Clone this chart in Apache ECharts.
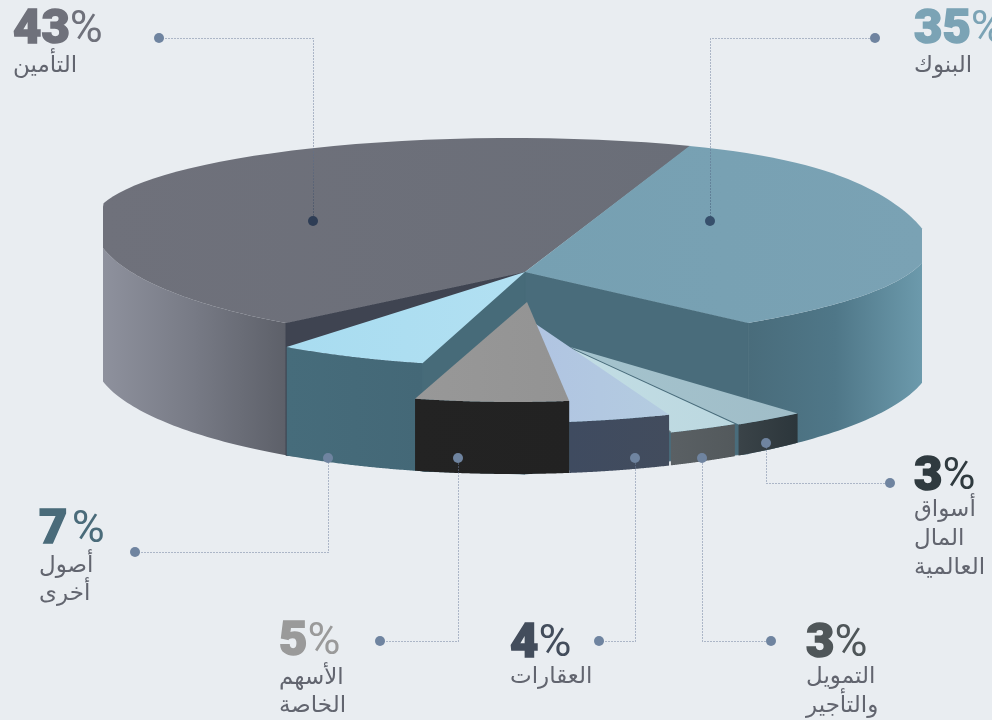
<!DOCTYPE html>
<html lang="ar">
<head>
<meta charset="utf-8">
<style>
  html, body { margin: 0; padding: 0; background: #e9edf1; }
  #chart { width: 992px; height: 720px; }
</style>
<script src="https://cdn.jsdelivr.net/npm/echarts@6/dist/echarts.min.js"></script>
</head>
<body>
<div id="chart"></div>
<script>
// Portfolio breakdown, percent of total.
const categories = [
  'التأمين',
  'أصول\nأخرى',
  'الأسهم\nالخاصة',
  'العقارات',
  'التمويل\nوالتأجير',
  'أسواق\nالمال\nالعالمية',
  'البنوك'
];
const shares = [43, 7, 5, 4, 3, 3, 35];

// Back-to-front painting order of the slices.
const paintOrder = [0, 6, 5, 4, 3, 1, 2];

// Base disc and rim of the pie.
const DISC = { cx: 513, rx: 420, ryBack: 84, ryFront: 120, rimY: 222, baseY: 356, baseRy: 118, minX: 103, maxX: 922, rayX: 408 };

// Per-slice placement: tip of the wedge, direction it faces, foreshortening and how far its top sits below the rim.
const placement = [
  { tip: [525, 272], facing: 155.4, fore: 66,  rimDrop: 0,  face: ['#6f717b', '#6a6e78'], wall: ['#8e919d', '#777a85', '#5d6069'], inner: { side: 1, color: '#3f4451' } },
  { tip: [525, 272], facing: 238.4, fore: 125, rimDrop: 24, face: ['#a8dcf0', '#b2e0f2'], wall: ['#466c7b', '#446877'], inner: { side: 1, color: '#476b79' } },
  { tip: [527, 302], facing: 265.9, fore: 82,  rimDrop: 60, face: ['#989898', '#939393'], wall: ['#232323', '#222222'] },
  { tip: [530, 320], facing: 282.6, fore: 100, rimDrop: 81, face: ['#b0c4e2', '#b4cce0'], wall: ['#3f4b60', '#424c5d'] },
  { tip: [570, 348], facing: 290.15, fore: 90, rimDrop: 99, face: ['#c2dde4', '#bcd8e0'], wall: ['#5a6064', '#53595c'], seam: '#66767c' },
  { tip: [570, 347], facing: 298.5, fore: 80,  rimDrop: 100, face: ['#a4c3cd', '#a0bdc8'], wall: ['#3a4348', '#2c363b'] },
  { tip: [525, 272], facing: 13,    fore: 78,  rimDrop: 0,  face: ['#76a0b2', '#7aa2b4'], wall: ['#496c7b', '#4f7788', '#6c9aac'], inner: { side: -1, color: '#496c7b' } }
];

// Annotation layout: leader path from outer dot to inner dot, and text block position.
const callouts = [
  { path: [[159, 38], [313, 38], [313, 221]], innerDot: '#2e3d55', x: 13,  numY: 31,  lineY: [66], color: '#6f717b' },
  { path: [[135, 552], [328, 552], [328, 458]], x: 39,  numY: 531, lineY: [566, 594], color: '#4a6b7a', spaced: true },
  { path: [[380, 641], [458, 641], [458, 458]], x: 279, numY: 643, lineY: [678, 706], color: '#9a9a9a' },
  { path: [[599, 641], [635, 641], [635, 458]], x: 510, numY: 645, lineY: [677], color: '#434d5c' },
  { path: [[771, 641], [702, 641], [702, 458]], x: 806, numY: 645, lineY: [677, 706], color: '#4f5659' },
  { path: [[890, 483], [766, 483], [766, 443]], x: 914, numY: 478, lineY: [510, 539, 568], color: '#2f3a3f' },
  { path: [[875, 38], [710, 38], [710, 221]], innerDot: '#37506c', x: 914, numY: 31, lineY: [66], color: '#7ba3b5' }
];

function frontWarp(u) { return u > 0 ? 15 * Math.pow(u, 4) : 0; }
function backWarp(u) { return u > 0 ? 30 * Math.pow(u, 6) : 0; }

function insideRim(x, y, drop) {
  const u = (x - DISC.cx) / DISC.rx;
  let dy = y - (DISC.rimY + drop) - frontWarp(u);
  let ry = DISC.ryFront;
  if (dy < 0) {
    dy -= backWarp(u) - frontWarp(u);
    ry = DISC.ryBack;
  }
  return u * u + (dy / ry) * (dy / ry) < 1;
}

// Walks out from the wedge tip along a direction until it meets the rim.
function rimPoint(p, deg) {
  const a = deg * Math.PI / 180;
  const dx = Math.cos(a) * DISC.rayX;
  const dy = -Math.sin(a) * p.fore;
  let lo = 0, hi = 6;
  for (let i = 0; i < 40; i++) {
    const t = (lo + hi) / 2;
    if (insideRim(p.tip[0] + dx * t, p.tip[1] + dy * t, p.rimDrop)) lo = t; else hi = t;
  }
  return [p.tip[0] + dx * lo, p.tip[1] + dy * lo];
}

function clampX(pt) {
  return [Math.min(DISC.maxX, Math.max(DISC.minX, pt[0])), pt[1]];
}

function baseAt(x) {
  const u = Math.min(1, Math.abs((x - DISC.cx) / DISC.rx));
  return DISC.baseY + DISC.baseRy * Math.sqrt(1 - u * u);
}

function gradient(stops) {
  return new echarts.graphic.LinearGradient(0, 0, 1, 0,
    stops.map((c, i) => ({ offset: i / (stops.length - 1), color: c })));
}

function renderSlice(params, api) {
  const value = api.value(0);
  const idx = api.value(1);
  const p = placement[idx];
  const sweep = value * 3.6;
  const from = p.facing - sweep / 2;
  const steps = 90;
  const rim = [];
  for (let i = 0; i <= steps; i++) {
    rim.push(clampX(rimPoint(p, from + sweep * i / steps)));
  }
  const children = [];

  // Outer wall: only the front half of the rim shows.
  const front = rim.filter(pt => {
    const u = (pt[0] - DISC.cx) / DISC.rx;
    return pt[1] >= DISC.rimY + p.rimDrop + frontWarp(u);
  }).sort((a, b) => a[0] - b[0]);
  if (front.length > 1) {
    const wall = front.concat(front.slice().reverse().map(pt => [pt[0], baseAt(pt[0])]));
    children.push({ type: 'polygon', shape: { points: wall }, style: { fill: gradient(p.wall) } });
  }

  // Cut face along one straight edge of the wedge.
  if (p.inner) {
    const edge = p.inner.side > 0 ? rim[rim.length - 1] : rim[0];
    children.push({
      type: 'polygon',
      shape: { points: [p.tip, edge, [edge[0], baseAt(edge[0])], [p.tip[0], baseAt(p.tip[0])]] },
      style: { fill: p.inner.color, stroke: p.inner.color, lineWidth: 1 }
    });
  }

  // Top face.
  children.push({
    type: 'polygon',
    shape: { points: [p.tip].concat(rim) },
    style: { fill: gradient(p.face) }
  });

  if (p.seam) {
    children.push({
      type: 'line',
      shape: { x1: p.tip[0], y1: p.tip[1], x2: rim[0][0], y2: rim[0][1] },
      style: { stroke: p.seam, lineWidth: 1.5 }
    });
  }
  return { type: 'group', children };
}

function renderCallout(params, api) {
  const idx = api.value(1);
  const c = callouts[idx];
  const first = c.path[0];
  const last = c.path[c.path.length - 1];
  // Leaders that run across the pie darken towards their inner dot so they stay visible.
  const leaderColor = c.innerDot
    ? new echarts.graphic.LinearGradient(0, 0, 0, 1, [
        { offset: 0, color: '#6f7f9c' }, { offset: 0.5, color: '#6f7f9c' }, { offset: 1, color: c.innerDot }
      ])
    : '#6f7f9c';
  const children = [
    { type: 'polyline', shape: { points: c.path.map(pt => [pt[0] + 0.5, pt[1] + 0.5]) }, style: { stroke: leaderColor, lineWidth: 1, lineDash: [1, 2], fill: null } },
    { type: 'circle', shape: { cx: first[0], cy: first[1], r: 5 }, style: { fill: '#6f84a0' } },
    { type: 'circle', shape: { cx: last[0], cy: last[1], r: 5 }, style: { fill: c.innerDot || '#6f84a0' } },
    {
      type: 'text', x: c.x, y: c.numY,
      style: {
        text: '{n|' + api.value(0) + '}' + (c.spaced ? '{g| }' : '') + '{p|%}',
        verticalAlign: 'middle', align: 'left',
        rich: {
          n: { fontFamily: 'Roboto', fontWeight: 900, fontSize: 49, fill: c.color, stroke: c.color, lineWidth: 1.5 },
          g: { fontFamily: 'Roboto', fontSize: 18, fill: c.color },
          p: { fontFamily: 'Roboto', fontWeight: 400, fontSize: 45, fill: c.color }
        }
      }
    }
  ];
  categories[idx].split('\n').forEach((line, i) => {
    children.push({
      type: 'text', x: c.x, y: c.lineY[i],
      style: {
        text: line, align: 'left', verticalAlign: 'middle',
        fontFamily: '"DejaVu Sans"', fontWeight: 'normal', fontSize: 23, fill: '#62656f'
      }
    });
  });
  return { type: 'group', children };
}

const rows = paintOrder.map(i => [shares[i], i]);

const chart = echarts.init(document.getElementById('chart'), null, { renderer: 'canvas' });
chart.setOption({
  backgroundColor: '#e9edf1',
  animation: false,
  series: [
    { type: 'custom', coordinateSystem: 'none', silent: true, z: 2, renderItem: renderSlice, data: rows },
    { type: 'custom', coordinateSystem: 'none', silent: true, z: 3, renderItem: renderCallout, data: rows }
  ]
});
</script>
</body>
</html>
